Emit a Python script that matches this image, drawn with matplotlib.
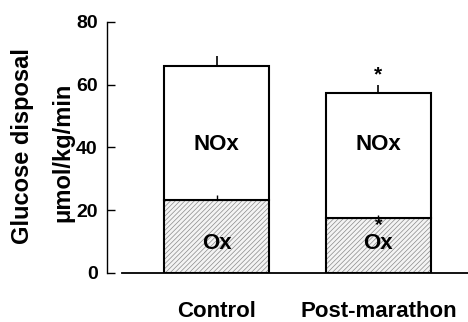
import matplotlib
matplotlib.use('Agg')
import matplotlib.pyplot as plt

plt.rcParams['font.family'] = ['Liberation Sans', 'DejaVu Sans']
plt.rcParams['font.weight'] = 'bold'
plt.rcParams['hatch.linewidth'] = 0.5

# values (umol/kg/min)
groups = ['Control', 'Post-marathon']
ox = [23.2, 17.4]
nox = [42.6, 40.0]
ox_sem = [1.6, 1.0]
total_sem = [3.2, 2.6]

x = [0, 1]
total = [o + n for o, n in zip(ox, nox)]
w = 0.65

fig = plt.figure(figsize=(4.68, 3.22), dpi=100)
ax = fig.add_axes([0.2297, 0.1522, 0.7703, 0.7804])

# hatched oxidative part, then outlines
ax.bar(x, ox, w, color='#f4f4f4', edgecolor='#8a8a8a', hatch='///////', lw=0, zorder=2)
ax.bar(x, ox, w, fill=False, edgecolor='black', lw=1.5, zorder=3)
ax.bar(x, nox, w, bottom=ox, color='white', edgecolor='black', lw=1.5, zorder=3)

# upward-only error bars, no caps
ax.errorbar(x, total, yerr=[[0, 0], total_sem], fmt='none', ecolor='black',
            elinewidth=1.2, capsize=0, zorder=4)
ax.errorbar(x, ox, yerr=[[0, 0], ox_sem], fmt='none', ecolor='black',
            elinewidth=1.0, capsize=0, zorder=4)

for xi in x:
    ax.text(xi, 41, 'NOx', ha='center', va='center', fontsize=16, fontweight='bold', zorder=5)
    ax.text(xi, 9.5, 'Ox', ha='center', va='center', fontsize=16, fontweight='bold', zorder=5)

# significance marks on post-marathon
ax.text(x[1], total[1] + total_sem[1] + 3.2, '*', ha='center', va='center',
        fontsize=15, fontweight='bold')
ax.text(x[1], ox[1] - 2.2, '*', ha='center', va='center',
        fontsize=14, fontweight='bold', zorder=5)

ax.set_xlim(-0.674, 1.554)
ax.set_ylim(0, 80)
ax.set_yticks([0, 20, 40, 60, 80])
ax.set_xticks(x)
ax.set_xticklabels(groups, fontsize=16, fontweight='bold')
ax.tick_params(axis='x', length=0, pad=20)
ax.tick_params(axis='y', direction='in', length=6, width=1, pad=7, labelsize=14)
for lab in ax.get_yticklabels():
    lab.set_fontweight('bold')

ax.spines['top'].set_visible(False)
ax.spines['right'].set_visible(False)
ax.spines['left'].set_linewidth(1.0)
ax.spines['bottom'].set_linewidth(1.3)
ax.spines['bottom'].set_bounds(-0.584, 1.554)

fig.text(23 / 468, 1 - 146 / 322, 'Glucose disposal', rotation=90, ha='center', va='center',
         fontsize=17, fontweight='bold')
fig.text(63 / 468, 1 - 152 / 322, '\u03bcmol/kg/min', rotation=90, ha='center', va='center',
         fontsize=17, fontweight='bold')

fig.savefig('out.png', dpi=100)
